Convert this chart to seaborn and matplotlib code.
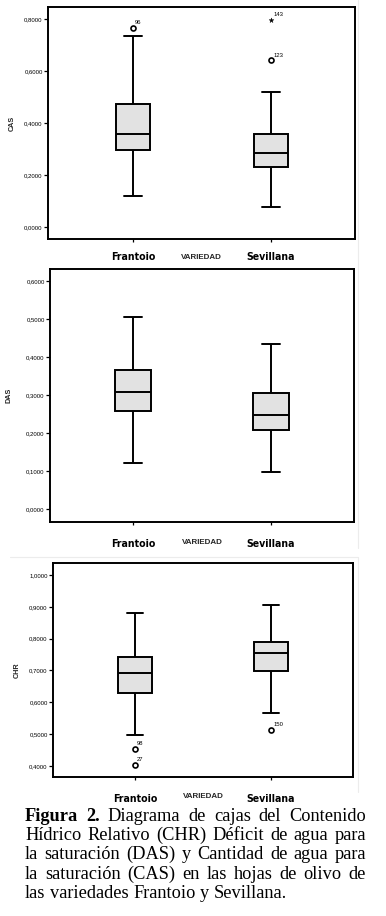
import matplotlib
matplotlib.use("Agg")
import matplotlib.pyplot as plt
from matplotlib.lines import Line2D
from matplotlib.ticker import FuncFormatter
from matplotlib import font_manager
import numpy as np
import pandas as pd
import seaborn as sns

# ---------------- data ----------------
varieties = ["Frantoio", "Sevillana"]

# five-number summaries: [lower whisker, Q1, median, Q3, upper whisker]
cas_frantoio = [0.121, 0.295, 0.357, 0.473, 0.733]
cas_sevillana = [0.077, 0.230, 0.284, 0.356, 0.521]
das_frantoio = [0.121, 0.259, 0.307, 0.367, 0.504]
das_sevillana = [0.097, 0.208, 0.247, 0.304, 0.435]
chr_frantoio = [0.496, 0.628, 0.692, 0.743, 0.881]
chr_sevillana = [0.565, 0.697, 0.754, 0.789, 0.905]

# outliers (variety, value, case id, kind)
cas_out_var = ["Frantoio", "Sevillana", "Sevillana"]
cas_out_val = [0.765, 0.641, 0.797]
cas_out_id = ["96", "123", "143"]
cas_out_kind = ["o", "o", "*"]

das_out_var = []
das_out_val = []
das_out_id = []
das_out_kind = []

chr_out_var = ["Frantoio", "Frantoio", "Sevillana"]
chr_out_val = [0.453, 0.403, 0.513]
chr_out_id = ["98", "27", "150"]
chr_out_kind = ["o", "o", "o"]

cas_ticks = [0.0, 0.2, 0.4, 0.6, 0.8]
das_ticks = [0.0, 0.1, 0.2, 0.3, 0.4, 0.5, 0.6]
chr_ticks = [0.4, 0.5, 0.6, 0.7, 0.8, 0.9, 1.0]

caption_lines = [
    [("Figura", True), ("2.", True), ("Diagrama", False), ("de", False), ("cajas", False),
     ("del", False), ("Contenido", False)],
    [(w, False) for w in "Hídrico Relativo (CHR) Déficit de agua para".split()],
    [(w, False) for w in "la saturación (DAS) y Cantidad de agua para".split()],
    [(w, False) for w in "la saturación (CAS) en las hojas de olivo de".split()],
    [(w, False) for w in "las variedades Frantoio y Sevillana.".split()],
]

# ---------------- style ----------------
sns.set_style("ticks")
plt.rcParams["font.family"] = ["Liberation Sans", "DejaVu Sans"]

# pick a condensed bold face for the category labels if one is installed
_names = {f.name for f in font_manager.fontManager.ttflist}
_cond = [f for f in font_manager.fontManager.ttflist
         if f.name == "DejaVu Sans" and "condensed" in str(f.stretch).lower()
         and f.weight in ("bold", 700)]
if "Liberation Sans Narrow" in _names:
    CAT_FONT = dict(family=["Liberation Sans Narrow", "Liberation Sans"], stretch="normal",
                    size=8.4)
elif _cond:
    CAT_FONT = dict(family=["DejaVu Sans"], stretch="condensed", size=7.6)
else:
    CAT_FONT = dict(family=["Liberation Sans", "DejaVu Sans"], stretch="normal", size=7.4)

W, H = 386, 916
fig = plt.figure(figsize=(W / 100, H / 100), dpi=100)
fig.patch.set_facecolor("white")

FILL = "#e2e2e2"


def px_axes(left, right, top, bottom):
    return fig.add_axes([left / W, 1 - bottom / H, (right - left) / W, (bottom - top) / H])


def panel(ax, name, fr, se, out_var, out_val, out_id, out_kind, ticks, ylim, xlim, width,
          ylab_x, tick_pad, xlab_y):
    df = pd.DataFrame({
        "VARIEDAD": ["Frantoio"] * len(fr) + ["Sevillana"] * len(se),
        name: list(fr) + list(se),
    })
    sns.boxplot(data=df, x="VARIEDAD", y=name, order=varieties, whis=(0, 100),
                width=width, color=FILL, saturation=1, linecolor="black",
                linewidth=1.4, showfliers=False, ax=ax)
    for kind in ["o", "*"]:
        xs = [v for v, k in zip(out_var, out_kind) if k == kind]
        ys = [y for y, k in zip(out_val, out_kind) if k == kind]
        if not xs:
            continue
        if kind == "o":
            sns.stripplot(x=xs, y=ys, order=varieties, jitter=False, marker="o",
                          size=3.6, color="white", edgecolor="black", linewidth=1.2, ax=ax)
        else:
            sns.stripplot(x=xs, y=ys, order=varieties, jitter=False, marker="*",
                          size=3.6, color="black", edgecolor="black", linewidth=0.3, ax=ax)
    for v, val, lab in zip(out_var, out_val, out_id):
        ax.annotate(lab, xy=(varieties.index(v), val), xytext=(1.6, 2.0),
                    textcoords="offset points", fontsize=4.2, ha="left", va="bottom",
                    color="black")
    ax.set_ylim(*ylim)
    ax.set_xlim(*xlim)
    ax.set_yticks(ticks)
    ax.yaxis.set_major_formatter(FuncFormatter(lambda v, p: f"{v:.4f}".replace(".", ",")))
    ax.tick_params(axis="y", labelsize=4.3, length=3, width=0.9, pad=0.8, colors="black")
    ax.tick_params(axis="x", length=2, width=0.9, pad=tick_pad, colors="black")
    for lab in ax.get_xticklabels():
        lab.set_fontfamily(CAT_FONT["family"])
        lab.set_fontstretch(CAT_FONT["stretch"])
        lab.set_fontweight("bold")
        lab.set_fontsize(CAT_FONT["size"])
    for s in ax.spines.values():
        s.set_visible(True)
        s.set_linewidth(1.4)
        s.set_color("black")
    ax.set_ylabel(name, fontsize=5.2, fontweight="bold")
    ax.yaxis.set_label_coords(ylab_x, 0.5)
    ax.set_xlabel("VARIEDAD", fontsize=5.8, fontweight="bold")
    ax.xaxis.set_label_coords(0.5, xlab_y)
    ax.xaxis.label.set_va("top")
    ax.set_facecolor("white")


# top panel (CAS)
ax1 = px_axes(48, 355, 7, 239)
panel(ax1, "CAS", cas_frantoio, cas_sevillana, cas_out_var, cas_out_val, cas_out_id,
      cas_out_kind, cas_ticks, (-0.0462, 0.846), (-0.616, 1.609), 0.25,
      (16 - 48) / 307, 7, (239 - 254) / 232)

# middle panel (DAS)
ax2 = px_axes(50, 354, 269, 522)
panel(ax2, "DAS", das_frantoio, das_sevillana, das_out_var, das_out_val, das_out_id,
      das_out_kind, das_ticks, (-0.0342, 0.6316), (-0.601, 1.601), 0.26,
      (13 - 50) / 304, 10, (522 - 539) / 253)

# bottom panel (CHR)
ax3 = px_axes(53, 353, 563, 777)
panel(ax3, "CHR", chr_frantoio, chr_sevillana, chr_out_var, chr_out_val, chr_out_id,
      chr_out_kind, chr_ticks, (0.3654, 1.0377), (-0.603, 1.603), 0.243,
      (21 - 53) / 300, 10, (777 - 793) / 214)

# faint screenshot borders
for (x0, y0, x1, y1) in [(358, 0, 358, 548), (358, 557, 358, 792), (10, 557, 358, 557)]:
    fig.add_artist(Line2D([x0 / W, x1 / W], [1 - y0 / H, 1 - y1 / H], color="#ececec",
                          linewidth=0.8, transform=fig.transFigure))

# ---------------- caption (justified) ----------------
renderer = fig.canvas.get_renderer()
cap_left, cap_right = 25, 366
baselines = [820.7, 840.0, 859.3, 878.7, 898.0]
cap_font = ["Liberation Serif", "DejaVu Serif"]
cap_size = 13.2
for li, (words, base) in enumerate(zip(caption_lines, baselines)):
    texts = []
    for w, bold in words:
        t = fig.text(0, 1 - base / H, w, fontsize=cap_size, family=cap_font,
                     fontweight="bold" if bold else "normal", va="baseline", ha="left",
                     color="black")
        texts.append(t)
    widths = [t.get_window_extent(renderer).width for t in texts]
    total = sum(widths)
    if li == len(caption_lines) - 1:
        gap = cap_size * 100 / 72 * 0.25
    else:
        gap = (cap_right - cap_left - total) / (len(words) - 1)
    x = cap_left
    for t, wdt in zip(texts, widths):
        t.set_x(x / W)
        x += wdt + gap

fig.savefig("out.png", dpi=100, facecolor="white")
